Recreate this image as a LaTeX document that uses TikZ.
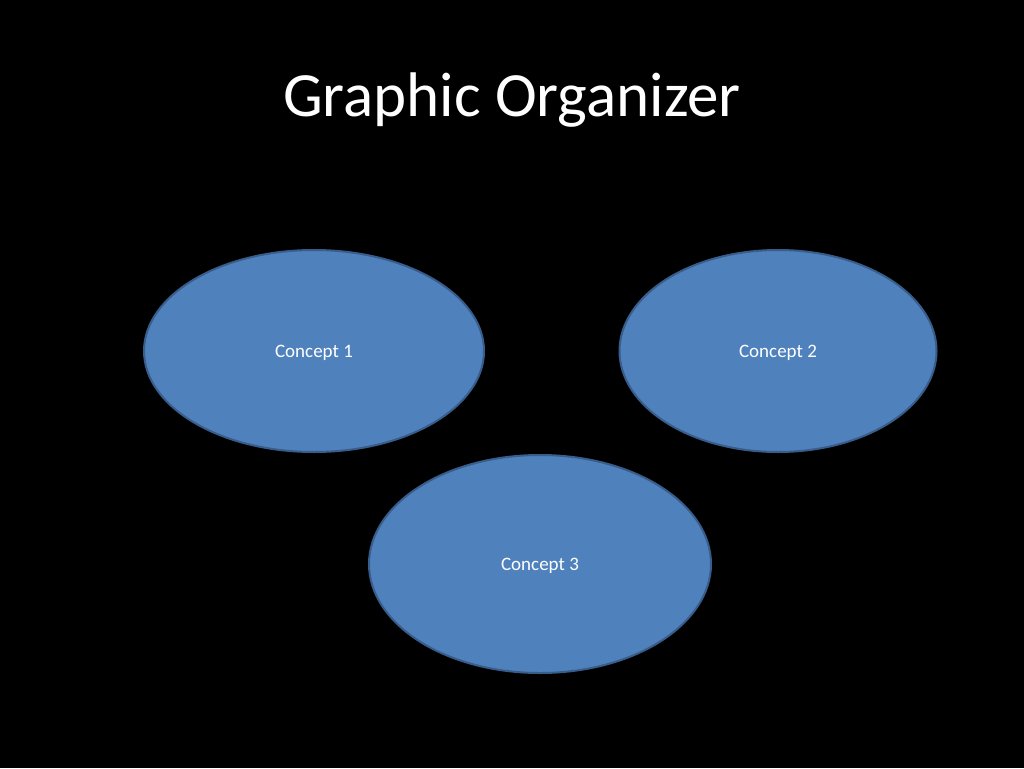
\documentclass[tikz,border=0pt]{standalone}
\usepackage{fontspec}
\setmainfont{Carlito}
\usetikzlibrary{shapes.geometric}
\definecolor{cfill}{HTML}{4F81BD}
\definecolor{cline}{HTML}{385D8A}
\tikzset{
  concept/.style={ellipse, fill=cfill, draw=cline, line width=2pt, inner sep=0pt, text depth=-2pt, text=white, font=\fontsize{19}{22}\selectfont},
}
\begin{document}
\begin{tikzpicture}[x=1pt,y=-1pt]
\fill[black] (0,0) rectangle (1024,768);
\useasboundingbox (0,0) rectangle (1024,768);
\node[text=white, font=\fontsize{63}{74}\selectfont, anchor=base] (title) at (512,116) {Graphic Organizer};
\node[concept, minimum width=340pt, minimum height=202pt] (c1) at (314,351) {Concept 1};
\node[concept, minimum width=317pt, minimum height=202pt] (c2) at (778,351) {Concept 2};
\node[concept, minimum width=342pt, minimum height=218pt] (c3) at (540,564) {Concept 3};
\end{tikzpicture}
\end{document}
